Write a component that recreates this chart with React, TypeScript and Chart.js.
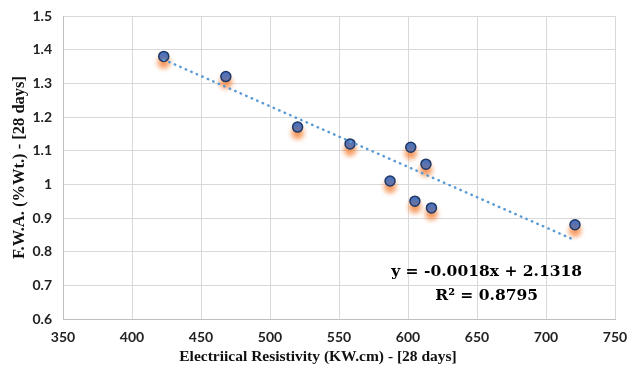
import React, { useEffect, useRef } from "react";
import { Chart, registerables } from "chart.js";

Chart.register(...registerables);

const resistivity = [423, 468, 520, 558, 587, 602, 605, 613, 617, 721];
const fwa = [1.38, 1.32, 1.17, 1.12, 1.01, 1.11, 0.95, 1.06, 0.93, 0.88];
const trendSlope = -0.0018;
const trendIntercept = 2.1318;
const equationLines = ["y = -0.0018x + 2.1318", "R² = 0.8795"];
const xTitle = "Electriical Resistivity (KW.cm) - [28 days]";
const yTitle = "F.W.A. (%Wt.) - [28 days]";

export default function App() {
  const ref = useRef<HTMLCanvasElement | null>(null);

  useEffect(() => {
    if (!ref.current) return;
    const xMin = Math.min(...resistivity);
    const xMax = Math.max(...resistivity);
    const trend = [
      { x: xMin, y: trendSlope * xMin + trendIntercept },
      { x: xMax, y: trendSlope * xMax + trendIntercept },
    ];

    const shadowPlugin = {
      id: "shadow",
      beforeDatasetDraw(chart: any, args: any) {
        if (args.index === 1) {
          const ctx = chart.ctx;
          ctx.save();
          ctx.shadowColor = "rgba(245,120,40,0.8)";
          ctx.shadowBlur = 5;
          ctx.shadowOffsetX = 0;
          ctx.shadowOffsetY = 6;
        }
      },
      afterDatasetDraw(chart: any, args: any) {
        if (args.index === 1) chart.ctx.restore();
      },
    };

    const textPlugin = {
      id: "texts",
      afterDraw(chart: any) {
        const ctx = chart.ctx;
        const xs = chart.scales.x;
        const ys = chart.scales.y;
        const area = chart.chartArea;
        ctx.save();
        ctx.fillStyle = "#000";
        ctx.font = 'bold 15.5px "DejaVu Serif"';
        ctx.textAlign = "center";
        ctx.textBaseline = "middle";
        const cx = xs.getPixelForValue(657);
        ctx.fillText(equationLines[0], cx, ys.getPixelForValue(0.741));
        ctx.fillText(equationLines[1], cx, ys.getPixelForValue(0.667));
        // x axis title (offset left of plot centre, as in the original)
        ctx.fillStyle = "#111";
        ctx.font = 'bold 15.5px "Liberation Serif"';
        ctx.fillText(xTitle, area.left + (area.right - area.left) * 0.462, 357);
        ctx.restore();
      },
    };

    const chart = new Chart(ref.current, {
      type: "scatter",
      data: {
        datasets: [
          {
            type: "line",
            data: trend,
            borderColor: "#5B9BD5",
            borderWidth: 2.5,
            borderDash: [0.5, 5.5],
            borderCapStyle: "round",
            pointRadius: 0,
            fill: false,
          } as any,
          {
            data: resistivity.map((x, i) => ({ x, y: fwa[i] })),
            backgroundColor: "#4472C4",
            borderColor: "#203864",
            borderWidth: 1.5,
            pointRadius: 5,
            pointHoverRadius: 5,
          },
        ],
      },
      options: {
        animation: false,
        responsive: false,
        events: [],
        layout: { padding: { left: 0, top: 16, right: 15, bottom: 0 } },
        plugins: { legend: { display: false }, tooltip: { enabled: false } },
        scales: {
          x: {
            type: "linear",
            min: 350,
            max: 750,
            afterFit: (s: any) => {
              s.height = 54;
              s.paddingLeft = 0;
              s.paddingRight = 0;
            },
            ticks: { stepSize: 50, color: "#222", font: { family: "Lato", weight: "bold", size: 14 }, padding: 10 },
            grid: { color: "#d9d9d9", lineWidth: 1, drawTicks: false },
            border: { color: "#bfbfbf" },
            title: { display: false, text: xTitle },
          },
          y: {
            min: 0.6,
            max: 1.5,
            afterFit: (s: any) => {
              s.width = 63;
              s.paddingTop = 0;
              s.paddingBottom = 0;
            },
            ticks: {
              stepSize: 0.1,
              color: "#222",
              font: { family: "Lato", weight: "bold", size: 14 },
              padding: 11,
              callback: (v: any) => String(Math.round(Number(v) * 10) / 10),
            },
            grid: { color: "#d9d9d9", lineWidth: 1, drawTicks: false },
            border: { color: "#bfbfbf" },
            title: {
              display: true,
              text: yTitle,
              color: "#111",
              font: { family: "Liberation Serif", weight: "bold", size: 16.5 },
              padding: { top: 10, bottom: 10 },
            },
          },
        },
      },
      plugins: [shadowPlugin, textPlugin],
    });
    return () => chart.destroy();
  }, []);

  return (
    <div style={{ position: "fixed", left: 0, top: 0, width: 630, height: 373, background: "#fff" }}>
      <canvas ref={ref} width={630} height={373} />
    </div>
  );
}
